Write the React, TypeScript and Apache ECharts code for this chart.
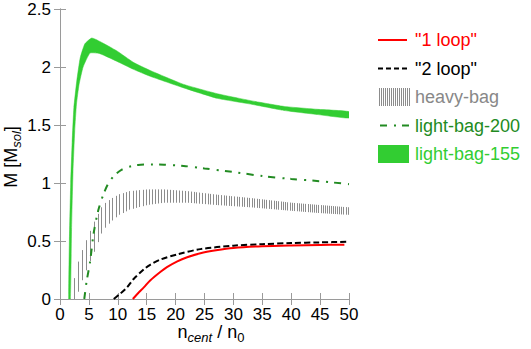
import React, { useEffect, useRef } from "react";
import * as echarts from "echarts";

// ---- data ----
const X_TICKS = [0, 5, 10, 15, 20, 25, 30, 35, 40, 45, 50];
const Y_TICKS = [0, 0.5, 1, 1.5, 2, 2.5];

const LOOP1_N = [12.6, 13.5, 14.5, 15.6, 17.4, 18.5, 20.3, 22, 24.3, 27, 30, 35, 40, 45, 49.2];
const LOOP1_M = [0, 0.05, 0.1, 0.16, 0.235, 0.275, 0.325, 0.36, 0.395, 0.42, 0.44, 0.455, 0.462, 0.466, 0.468];

const LOOP2_N = [9.3, 10.5, 11.6, 12.7, 14.5, 15.6, 17.4, 20.3, 24.3, 30, 35, 40, 45, 50];
const LOOP2_M = [0, 0.05, 0.1, 0.17, 0.255, 0.295, 0.34, 0.385, 0.43, 0.46, 0.473, 0.482, 0.488, 0.494];

const HEAVY_N = [2.4, 3, 4, 5, 6, 7, 8, 10, 12, 15, 18, 22, 27, 33, 40, 45, 50];
const HEAVY_HI = [0.18, 0.3, 0.44, 0.56, 0.68, 0.78, 0.84, 0.9, 0.93, 0.945, 0.945, 0.93, 0.9, 0.87, 0.83, 0.81, 0.79];
const HEAVY_LO = [0.0, 0.04, 0.18, 0.3, 0.42, 0.55, 0.63, 0.72, 0.77, 0.81, 0.83, 0.83, 0.81, 0.79, 0.76, 0.74, 0.725];

const LB200_N = [4.2, 4.6, 5.2, 5.8, 6.6, 7.5, 8.4, 9.5, 10.7, 12, 13.5, 15.6, 18, 21.4, 25, 30, 35, 40, 45, 50];
const LB200_M = [0, 0.15, 0.32, 0.56, 0.76, 0.9, 1.0, 1.07, 1.115, 1.14, 1.155, 1.16, 1.157, 1.147, 1.125, 1.095, 1.06, 1.035, 1.015, 0.99];

// light-bag-155 band: upper (left/top) edge and lower (right/bottom) edge
const LB155_UP_N = [1.5, 1.62, 1.85, 2.1, 2.4, 2.9, 3.5, 4.3, 5.5, 6.9, 9.8, 12.7, 15.6, 21.4, 27.2, 33, 38.8, 44.6, 50];
const LB155_UP_M = [0, 0.5, 1.0, 1.35, 1.65, 1.88, 2.08, 2.2, 2.25, 2.22, 2.14, 2.04, 1.97, 1.85, 1.77, 1.71, 1.66, 1.635, 1.615];
const LB155_LO_N = [1.8, 2.0, 2.25, 2.55, 2.85, 3.3, 4.0, 5.2, 6.9, 9.8, 12.7, 15.6, 21.4, 27.2, 33, 38.8, 44.6, 50];
const LB155_LO_M = [0, 0.6, 1.1, 1.45, 1.68, 1.85, 2.0, 2.12, 2.115, 2.05, 1.98, 1.92, 1.82, 1.73, 1.68, 1.625, 1.59, 1.56];

const FONT = "Liberation Sans, Arial, Helvetica, sans-serif";

function pairs(xs: number[], ys: number[]) {
  return xs.map((x, i) => [x, ys[i]]);
}

export default function App() {
  const ref = useRef<HTMLDivElement>(null);
  useEffect(() => {
    if (!ref.current) return;
    const chart = echarts.init(ref.current, undefined, { renderer: "svg" });

    const heavyData = HEAVY_N.map((n, i) => [n, HEAVY_LO[i], HEAVY_HI[i]]);
    const heavyRender = (params: any, api: any) => {
      const i = params.dataIndex;
      const last = HEAVY_N.length - 1;
      if (i >= last) return null;
      const a0 = api.coord([HEAVY_N[i], HEAVY_LO[i]]);
      const a1 = api.coord([HEAVY_N[i], HEAVY_HI[i]]);
      const b0 = api.coord([HEAVY_N[i + 1], HEAVY_LO[i + 1]]);
      const b1 = api.coord([HEAVY_N[i + 1], HEAVY_HI[i + 1]]);
      const xs = api.coord([HEAVY_N[0], 0])[0];
      const xe = api.coord([HEAVY_N[last], 0])[0];
      const children: any[] = [];
      let x = xs;
      while (x <= xe + 0.01) {
        const inSeg = x >= a0[0] - 0.001 && (x < b0[0] || (i === last - 1 && x <= b0[0] + 0.01));
        if (inSeg) {
          const t = (x - a0[0]) / (b0[0] - a0[0]);
          const yLo = a0[1] + t * (b0[1] - a0[1]);
          const yHi = a1[1] + t * (b1[1] - a1[1]);
          const px = Math.round(x) + 0.5;
          children.push({
            type: "line",
            shape: { x1: px, y1: yLo, x2: px, y2: yHi },
            style: { stroke: "#8c8c8c", lineWidth: 1 },
          });
        }
        const f = (x - xs) / (xe - xs);
        x += 4.4 - 2.4 * Math.sqrt(Math.max(0, f));
      }
      return { type: "group", children };
    };

    const bandOutline = [
      ...pairs(LB155_UP_N, LB155_UP_M),
      ...pairs(LB155_LO_N, LB155_LO_M).reverse(),
    ];
    const bandRender = (params: any, api: any) => {
      if (params.dataIndex !== 0) return null;
      const pts = bandOutline.map((p) => api.coord(p));
      return {
        type: "polygon",
        shape: { points: pts, smooth: 0.15 },
        style: { fill: "#32cd32", stroke: "#32cd32", lineWidth: 0.5 },
      };
    };

    const axisColor = "#9a9a9a";
    const legendY = [40, 68.5, 97, 125.5, 154];
    const legendGraphics: any[] = [];
    legendGraphics.push({ type: "line", shape: { x1: 378, y1: legendY[0], x2: 407, y2: legendY[0] }, style: { stroke: "#ff0000", lineWidth: 2 } });
    legendGraphics.push({ type: "line", shape: { x1: 378, y1: legendY[1], x2: 407, y2: legendY[1] }, style: { stroke: "#000000", lineWidth: 2, lineDash: [5, 3] } });
    for (let hx = 379; hx <= 409; hx += 2) {
      legendGraphics.push({ type: "line", shape: { x1: hx + 0.5, y1: legendY[2] - 9, x2: hx + 0.5, y2: legendY[2] + 9 }, style: { stroke: "#8c8c8c", lineWidth: 1 } });
    }
    legendGraphics.push({ type: "line", shape: { x1: 380, y1: legendY[3], x2: 410, y2: legendY[3] }, style: { stroke: "#228b22", lineWidth: 2, lineDash: [7, 7, 2, 6] } });
    legendGraphics.push({ type: "rect", shape: { x: 378, y: legendY[4] - 9, width: 31, height: 18 }, style: { fill: "#32cd32" } });
    const legendTexts = [
      { t: '"1 loop"', c: "#ff0000" },
      { t: '"2 loop"', c: "#000000" },
      { t: "heavy-bag", c: "#888888" },
      { t: "light-bag-200", c: "#228b22" },
      { t: "light-bag-155", c: "#32cd32" },
    ];
    legendTexts.forEach((lt, i) => {
      legendGraphics.push({
        type: "text",
        x: 415,
        y: legendY[i],
        style: { text: lt.t, fill: lt.c, font: `18px ${FONT}`, align: "left", verticalAlign: "middle" },
      });
    });

    const rich = {
      m: { fontSize: 18, fontFamily: FONT, lineHeight: 24, fill: "#000", color: "#000" },
      s: { fontSize: 13, fontFamily: FONT, fontStyle: "italic", lineHeight: 14, verticalAlign: "bottom", color: "#000" },
      z: { fontSize: 13, fontFamily: FONT, lineHeight: 14, verticalAlign: "bottom", color: "#000" },
    };

    const xCommon = {
      type: "value",
      min: X_TICKS[0],
      max: X_TICKS[X_TICKS.length - 1],
      interval: X_TICKS[1] - X_TICKS[0],
      splitLine: { show: false },
      axisLine: { show: true, lineStyle: { color: axisColor, width: 1 } },
      axisTick: { show: true, inside: true, length: 6, lineStyle: { color: axisColor } },
    };
    const yCommon = {
      type: "value",
      min: Y_TICKS[0],
      max: Y_TICKS[Y_TICKS.length - 1],
      interval: Y_TICKS[1] - Y_TICKS[0],
      splitLine: { show: false },
      axisLine: { show: true, lineStyle: { color: axisColor, width: 1 } },
      axisTick: { show: true, inside: true, length: 6, lineStyle: { color: axisColor } },
    };

    chart.setOption({
      animation: false,
      backgroundColor: "#ffffff",
      grid: { left: 60, right: 182, top: 9, bottom: 50, containLabel: false },
      xAxis: [
        { ...xCommon, position: "bottom", axisLabel: { color: "#000", fontSize: 17, fontFamily: FONT, margin: 7 } },
        { ...xCommon, position: "top", axisLabel: { show: false } },
      ],
      yAxis: [
        { ...yCommon, position: "left", axisLabel: { color: "#000", fontSize: 17, fontFamily: FONT, margin: 9, padding: [8, 0, 0, 0] } },
        { ...yCommon, position: "right", axisLabel: { show: false } },
      ],
      series: [
        {
          name: "heavy-bag",
          type: "custom",
          coordinateSystem: "cartesian2d",
          renderItem: heavyRender,
          data: heavyData,
          clip: true,
          z: 2,
        },
        {
          name: "light-bag-200",
          type: "line",
          data: pairs(LB200_N, LB200_M),
          smooth: 0.3,
          showSymbol: false,
          lineStyle: { color: "#228b22", width: 2, type: [7, 7, 2, 6] },
          z: 3,
        },
        {
          name: "light-bag-155",
          type: "custom",
          coordinateSystem: "cartesian2d",
          renderItem: bandRender,
          data: bandOutline,
          clip: true,
          z: 4,
        },
        {
          name: '"2 loop"',
          type: "line",
          data: pairs(LOOP2_N, LOOP2_M),
          smooth: 0.3,
          showSymbol: false,
          lineStyle: { color: "#000000", width: 2, type: [6, 3] },
          z: 5,
        },
        {
          name: '"1 loop"',
          type: "line",
          data: pairs(LOOP1_N, LOOP1_M),
          smooth: 0.3,
          showSymbol: false,
          lineStyle: { color: "#ff0000", width: 2 },
          z: 6,
        },
      ],
      graphic: [
        {
          type: "text",
          x: 11,
          y: 157,
          rotation: Math.PI / 2,
          style: { text: "{m|M [M}{s|sol}{m|]}", rich, align: "center", verticalAlign: "middle" },
        },
        {
          type: "text",
          x: 211,
          y: 332,
          style: { text: "{m|n}{s|cent}{m| / n}{z|0}", rich, align: "center", verticalAlign: "middle" },
        },
        ...legendGraphics,
      ],
    });
    return () => chart.dispose();
  }, []);
  return <div ref={ref} style={{ position: "fixed", left: 0, top: 0, width: 531, height: 349 }} />;
}
